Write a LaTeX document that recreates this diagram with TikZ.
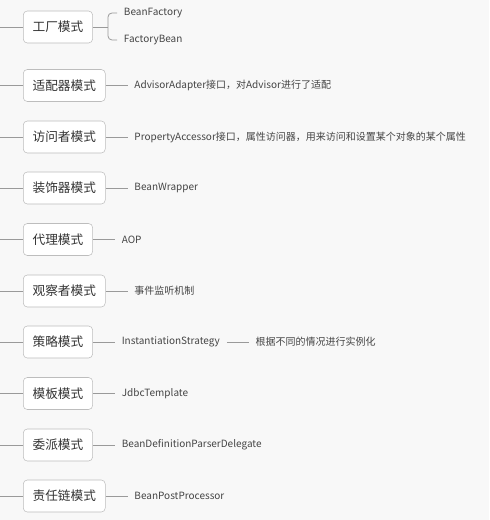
\documentclass[tikz,border=0pt]{standalone}
\usepackage{fontspec}
\setmainfont{Noto Sans CJK SC}
\usetikzlibrary{positioning}
\definecolor{bgcol}{HTML}{F8F8F8}
\definecolor{boxline}{HTML}{BDBDBD}
\definecolor{linkcol}{HTML}{9A9A9A}
\definecolor{boxtext}{HTML}{333333}
\definecolor{notetext}{HTML}{444444}
\tikzstyle{modebox} = [rectangle, rounded corners=3pt, draw=boxline,
    fill=white, text=boxtext, font=\fontsize{9.5}{11}\selectfont,
    minimum height=24pt, inner xsep=7pt, anchor=west]
\tikzstyle{note} = [text=notetext, font=\fontsize{7.5}{9}\selectfont,
    inner xsep=5pt, inner ysep=1pt]
\tikzstyle{link} = [draw=linkcol, line width=0.6pt]

\begin{document}
\begin{tikzpicture}[x=0.75pt, y=-0.75pt, node distance=16.5pt]

        \useasboundingbox [fill=bgcol] (0,0) rectangle (489,520);

        % Nodes
        \node (factory) [modebox] at (23,27) {工厂模式};
        \node (adapter) [modebox] at (23,85.5) {适配器模式};
        \node (visitor) [modebox] at (23,137) {访问者模式};
        \node (decorator) [modebox] at (23,188) {装饰器模式};
        \node (proxy) [modebox] at (23,239.5) {代理模式};
        \node (observer) [modebox] at (23,291) {观察者模式};
        \node (strategy) [modebox] at (23,342) {策略模式};
        \node (template) [modebox] at (23,393.5) {模板模式};
        \node (delegate) [modebox] at (23,445) {委派模式};
        \node (chain) [modebox] at (23,496) {责任链模式};

        \coordinate (fork) at (108,27);
        \node (beanfactory) [note, anchor=west] at (117,13) {BeanFactory};
        \node (factorybean) [note, anchor=west] at (117,40) {FactoryBean};
        \node (adapterinfo) [note, right=of adapter] {AdvisorAdapter接口，对Advisor进行了适配};
        \node (visitorinfo) [note, right=of visitor] {PropertyAccessor接口，属性访问器，用来访问和设置某个对象的某个属性};
        \node (decoratorinfo) [note, right=of decorator] {BeanWrapper};
        \node (proxyinfo) [note, right=of proxy] {AOP};
        \node (observerinfo) [note, right=of observer] {事件监听机制};
        \node (strategyinfo) [note, right=of strategy] {InstantiationStrategy};
        \node (strategyinfo2) [note, right=of strategyinfo] {根据不同的情况进行实例化};
        \node (templateinfo) [note, right=of template] {JdbcTemplate};
        \node (delegateinfo) [note, right=of delegate] {BeanDefinitionParserDelegate};
        \node (chaininfo) [note, right=of chain] {BeanPostProcessor};

        % Connectors
        \foreach \m in {factory, adapter, visitor, decorator, proxy,
                        observer, strategy, template, delegate, chain}
            \draw [link] (\m.west) -- ++(-23,0);

        \draw [link] (factory) -- (fork);
        \draw [link, rounded corners=3pt] (beanfactory.west) -| (fork) |- (factorybean.west);
        \draw [link] (adapter) -- (adapterinfo);
        \draw [link] (visitor) -- (visitorinfo);
        \draw [link] (decorator) -- (decoratorinfo);
        \draw [link] (proxy) -- (proxyinfo);
        \draw [link] (observer) -- (observerinfo);
        \draw [link] (strategy) -- (strategyinfo);
        \draw [link] (strategyinfo) -- (strategyinfo2);
        \draw [link] (template) -- (templateinfo);
        \draw [link] (delegate) -- (delegateinfo);
        \draw [link] (chain) -- (chaininfo);

    \end{tikzpicture}
\end{document}
